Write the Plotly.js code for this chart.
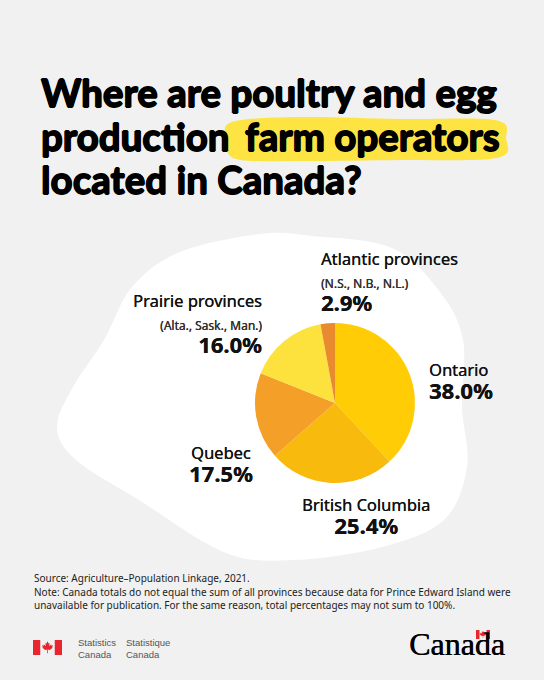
<!DOCTYPE html>
<html>
<head>
<meta charset="utf-8">
<script src="https://cdn.plot.ly/plotly-3.0.1.min.js"></script>
<style>
  html, body { margin: 0; padding: 0; background: #f1f1f1; }
  #chart { width: 544px; height: 680px; }
</style>
</head>
<body>
<div id="chart"></div>
<script>
// ---- Data ----
const regions = ['Ontario', 'British Columbia', 'Quebec', 'Prairie provinces', 'Atlantic provinces'];
const shares = [38.0, 25.4, 17.5, 16.0, 2.9];
const subLabels = ['', '', '', '(Alta., Sask., Man.)', '(N.S., N.B., N.L.)'];
const sliceColors = ['#FFCC05', '#F8BA0C', '#F49F28', '#FDE23E', '#E98A2F'];
const titleLines = ['Where are poultry and egg', 'production', 'farm operators', 'located in Canada?'];
const sourceLines = [
  'Source: Agriculture–Population Linkage, 2021.',
  'Note: Canada totals do not equal the sum of all provinces because data for Prince Edward Island were',
  'unavailable for publication. For the same reason, total percentages may not sum to 100%.'
];

const W = 544, H = 680;
const px = x => x / W;
const py = y => 1 - y / H;

function closedPath(pts) {
  const n = pts.length;
  let d = `M${px(pts[0][0])},${py(pts[0][1])}`;
  for (let i = 0; i < n; i++) {
    const p0 = pts[(i - 1 + n) % n], p1 = pts[i], p2 = pts[(i + 1) % n], p3 = pts[(i + 2) % n];
    const c1 = [p1[0] + (p2[0] - p0[0]) / 6, p1[1] + (p2[1] - p0[1]) / 6];
    const c2 = [p2[0] - (p3[0] - p1[0]) / 6, p2[1] - (p3[1] - p1[1]) / 6];
    d += ` C${px(c1[0])},${py(c1[1])} ${px(c2[0])},${py(c2[1])} ${px(p2[0])},${py(p2[1])}`;
  }
  return d + ' Z';
}

const blobPts = [
  [260, 234], [312, 236], [392, 248], [440, 292], [463, 340], [462, 407], [467, 467],
  [444, 520], [382, 547], [295, 560], [226, 553], [139, 500], [76, 460], [57, 427],
  [73, 387], [104, 340], [132, 287], [180, 252]
];
const highlightPts = [
  [232, 122], [300, 117], [400, 119], [495, 120], [506, 138], [497, 158],
  [400, 160], [300, 161], [236, 159], [227, 140]
];

const leaf = [[0,1],[0.18,0.62],[0.32,0.72],[0.28,0.25],[0.62,0.52],[0.55,0.3],[0.9,0.32],[0.72,0.05],[0.82,-0.02],[0.35,-0.38],[0.06,-0.3],[0.06,-0.9],[-0.06,-0.9],[-0.06,-0.3],[-0.35,-0.38],[-0.82,-0.02],[-0.72,0.05],[-0.9,0.32],[-0.55,0.3],[-0.62,0.52],[-0.28,0.25],[-0.32,0.72],[-0.18,0.62]];
function leafPath(cx, cy, s) {
  return leaf.map((p, i) => (i ? 'L' : 'M') + px(cx + p[0] * s) + ',' + py(cy - p[1] * s)).join(' ') + ' Z';
}
function flagShapes(x0, y0, w, h) {
  const bar = w / 4;
  return [
    {type:'rect', xref:'paper', yref:'paper', x0:px(x0), x1:px(x0+bar), y0:py(y0+h), y1:py(y0), fillcolor:'#E8262D', line:{width:0}},
    {type:'rect', xref:'paper', yref:'paper', x0:px(x0+w-bar), x1:px(x0+w), y0:py(y0+h), y1:py(y0), fillcolor:'#E8262D', line:{width:0}},
    {type:'path', xref:'paper', yref:'paper', path:leafPath(x0 + w/2, y0 + h/2, h*0.42), fillcolor:'#E8262D', line:{width:0}}
  ];
}

const shapes = [
  {type:'path', xref:'paper', yref:'paper', path:closedPath(blobPts), fillcolor:'#FFFFFF', line:{width:0}, layer:'below'},
  {type:'path', xref:'paper', yref:'paper', path:closedPath(highlightPts), fillcolor:'#FDE443', line:{width:0}, layer:'below'},
  ...flagShapes(33, 640, 29, 15),
  ...flagShapes(476, 630, 14, 9)
];

const labelFont = 'Noto Sans, Open Sans, sans-serif';
const titleFont = 'Lato, sans-serif';
const annotations = [];
function txt(x, y, text, opts) {
  annotations.push(Object.assign({
    xref:'paper', yref:'paper', x:px(x), y:py(y), text:text, showarrow:false, borderpad:0,
    xanchor:'left', yanchor:'middle', font:{family:labelFont, size:12, color:'#111'}
  }, opts));
}

// Title (thickened with a thin text shadow to approach the heavy display face)
const tf = {family:titleFont, size:38.5, color:'#000', weight:700,
  shadow:'0.8px 0 0 #000, -0.8px 0 0 #000, 0 0.6px 0 #000, 0 -0.6px 0 #000'};
txt(40, 92, titleLines[0], {font:tf});
txt(40, 136, titleLines[1], {font:tf});
txt(501, 136, titleLines[2], {font:tf, xanchor:'right'});
txt(40, 179, titleLines[3], {font:tf});

// Pie labels: [index, x, top-line y, anchor]
const labelPos = [
  [0, 428, 368, 'left'],
  [1, 366, 503, 'center'],
  [2, 221, 451, 'center'],
  [3, 263, 299, 'right'],
  [4, 320, 257, 'left']
];
labelPos.forEach(([i, x, y, a]) => {
  const lines = [`<span style="font-size:16.5px">${regions[i]}</span>`];
  if (subLabels[i]) lines.push(`<span style="font-size:12px;fill:#333">${subLabels[i]}</span>`);
  lines.push(`<b style="font-size:22px">${shares[i].toFixed(1)}%</b>`);
  annotations.push({
    xref:'paper', yref:'paper', x:px(x), y:py(y - 11), text:lines.join('<br>'),
    showarrow:false, borderpad:0, xanchor:a, yanchor:'top', align:a,
    font:{family:labelFont, size:17.5, color:'#111', shadow:'0.25px 0 0 #111'}
  });
});

// Footer
sourceLines.forEach((s, i) => txt(33, 578 + i * 13.5, s, {font:{family:labelFont, size:10, color:'#222'}}));
const lf = {family:'Liberation Sans, Arial, sans-serif', size:9.5, color:'#555'};
txt(77, 642, 'Statistics', {font:lf});
txt(77, 654, 'Canada', {font:lf});
txt(125, 642, 'Statistique', {font:lf});
txt(125, 654, 'Canada', {font:lf});
txt(408, 644, 'Canada', {font:{family:'Liberation Serif, serif', size:32, color:'#000', shadow:'0.4px 0 0 #000'}});

const data = [{
  type:'pie', labels:regions, values:shares, sort:false, direction:'clockwise', rotation:0,
  marker:{colors:sliceColors, line:{width:0}}, textinfo:'none', hoverinfo:'label+percent',
  domain:{x:[px(255), px(415)], y:[py(483), py(323)]}, showlegend:false
}];

const layout = {
  width:W, height:H, margin:{l:0, r:0, t:0, b:0},
  paper_bgcolor:'#F1F1F1', plot_bgcolor:'#F1F1F1',
  shapes:shapes, annotations:annotations, showlegend:false
};
Plotly.newPlot('chart', data, layout, {displayModeBar:false, staticPlot:true});
</script>
</body>
</html>
